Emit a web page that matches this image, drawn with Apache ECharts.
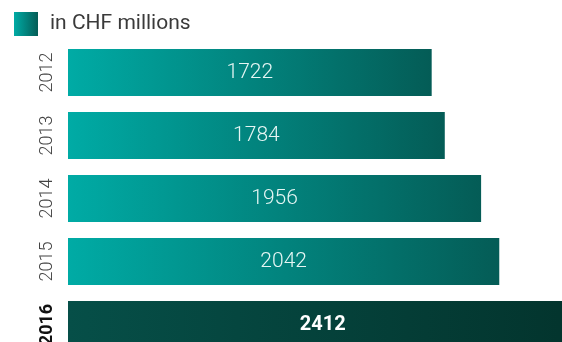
<!DOCTYPE html>
<html>
<head>
<meta charset="utf-8">
<script src="https://cdn.jsdelivr.net/npm/echarts@6/dist/echarts.min.js"></script>
<style>html,body{margin:0;padding:0;background:#fff}#c{width:562px;height:342px}</style>
</head>
<body>
<div id="c"></div>
<script>
var categories = ['2012', '2013', '2014', '2015', '2016'];
var values = [1722, 1784, 1956, 2042, 2412];
var seriesName = 'in CHF millions';
var highlightIndex = 4;

function grad(a, b) {
  return new echarts.graphic.LinearGradient(0, 0, 1, 0, [
    { offset: 0, color: a }, { offset: 1, color: b }
  ]);
}
var normalGrad = function () { return grad('#00aba5', '#045c56'); };
var highGrad = function () { return grad('#064f48', '#03342d'); };

var chart = echarts.init(document.getElementById('c'), null, { renderer: 'canvas' });
chart.setOption({
  animation: false,
  legend: {
    left: 14, top: 12, padding: 0,
    itemWidth: 24, itemHeight: 24,
    icon: 'rect',
    data: [{ name: seriesName, itemStyle: { color: grad('#00aba5', '#045c56') } }],
    textStyle: { fontFamily: 'Roboto', fontSize: 21, color: '#3a3a3a', padding: [0, 0, 0, 7] }
  },
  grid: { left: 68, top: 41, width: 528, height: 315, containLabel: false, outerBoundsMode: 'none' },
  xAxis: {
    type: 'value', min: 0, max: 2500,
    show: false
  },
  yAxis: {
    type: 'category', inverse: true,
    data: categories.map(function (c, i) {
      return i === highlightIndex ? { value: c, textStyle: { fontWeight: 'bold', color: '#111', fontSize: 18 } } : c;
    }),
    axisLine: { show: false }, axisTick: { show: false },
    axisLabel: {
      rotate: 90, margin: 12,
      fontFamily: 'Roboto', fontWeight: 300, fontSize: 18, color: '#444'
    }
  },
  series: [{
    name: seriesName,
    type: 'bar',
    barWidth: 47,
    data: values.map(function (v, i) {
      var hi = i === highlightIndex;
      return {
        value: v,
        itemStyle: { color: hi ? highGrad() : normalGrad() },
        label: hi ? { fontWeight: 'bold', color: '#ffffff', fontSize: 20 } : {}
      };
    }),
    label: {
      show: true, position: 'inside',
      fontFamily: 'Roboto', fontWeight: 300, fontSize: 21, color: '#e6f6f4'
    }
  }]
});
</script>
</body>
</html>
